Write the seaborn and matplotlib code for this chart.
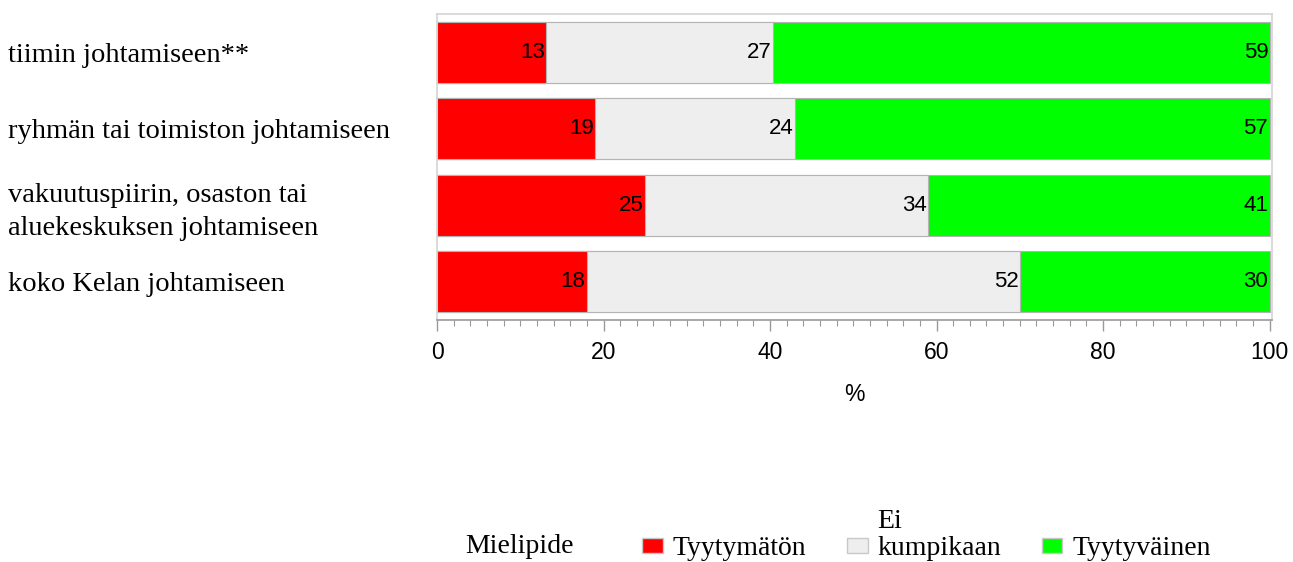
import matplotlib
matplotlib.use("Agg")
import matplotlib.pyplot as plt
from matplotlib.patches import Patch
from matplotlib.ticker import MultipleLocator
import numpy as np
import pandas as pd
import seaborn as sns

# data
items = ["tiimin johtamiseen**",
         "ryhmän tai toimiston johtamiseen",
         "vakuutuspiirin, osaston tai\naluekeskuksen johtamiseen",
         "koko Kelan johtamiseen"]
tyytymaton = [13, 19, 25, 18]
ei_kumpikaan = [27, 24, 34, 52]
tyytyvainen = [59, 57, 41, 30]
series_names = ["Tyytymätön", "Ei kumpikaan", "Tyytyväinen"]
series_colors = ["#ff0000", "#eeeeee", "#00ff00"]

SERIF = "Liberation Serif"
SANS = "Liberation Sans"

sns.set_style("white")
plt.rcParams["font.family"] = [SANS, "DejaVu Sans"]
plt.rcParams["text.color"] = "black"
plt.rcParams["axes.labelcolor"] = "black"
plt.rcParams["xtick.labelcolor"] = "black"
plt.rcParams["ytick.labelcolor"] = "black"

df = pd.DataFrame({"item": items,
                   "Tyytymätön": tyytymaton,
                   "Ei kumpikaan": ei_kumpikaan,
                   "Tyytyväinen": tyytyvainen})
values = df[series_names].to_numpy()
# rounded shares do not always add to 100, the bars are drawn as full rows
cum = values.cumsum(axis=1) / values.sum(axis=1, keepdims=True) * 100

fig = plt.figure(figsize=(12.93, 5.62), dpi=100)
ax = fig.add_axes([437 / 1293, 1 - 320 / 562, (1272 - 437) / 1293, (320 - 14) / 562])

# stacked bars: draw cumulative totals from the largest to the smallest
for j in reversed(range(3)):
    sns.barplot(x=cum[:, j], y=df["item"], orient="h", color=series_colors[j],
                saturation=1, width=0.8, edgecolor="#b4b4b4", linewidth=0.8, ax=ax)

# value labels at the right end of each segment (containers: green, grey, red)
for k, container in enumerate(ax.containers):
    j = 2 - k
    for i, bar in enumerate(container):
        x_end = bar.get_x() + bar.get_width()
        y_mid = bar.get_y() + bar.get_height() / 2
        ax.text(x_end - 0.15, y_mid, str(values[i, j]), ha="right", va="center",
                fontsize=16, family=SANS, color="black")

ax.set_xlim(0, 100.3)
ax.set_ylim(3.5, -0.5)
ax.xaxis.set_major_locator(MultipleLocator(20))
ax.xaxis.set_minor_locator(MultipleLocator(2))
ax.tick_params(axis="x", which="major", length=8, width=1, color="#9a9a9a",
               labelsize=16.5, pad=7, bottom=True)
ax.tick_params(axis="x", which="minor", length=4, width=0.8, color="#9a9a9a", bottom=True)
ax.set_xlabel("%", fontsize=16.5, labelpad=14)

ax.set_ylabel("")
ax.tick_params(axis="y", length=0, pad=(437 - 8) * 0.72)
for lab in ax.get_yticklabels():
    lab.set_horizontalalignment("left")
    lab.set_fontfamily(SERIF)
    lab.set_fontsize(20.5)
    lab.set_linespacing(1.4)

for side in ["top", "right", "left"]:
    ax.spines[side].set_color("#d4d4d4")
    ax.spines[side].set_linewidth(1.2)
ax.spines["bottom"].set_color("#9a9a9a")
ax.spines["bottom"].set_linewidth(1.2)

# legend at the bottom
LEG_SIZE = 20
handles = [Patch(facecolor=c, edgecolor="#c8c8c8", linewidth=1) for c in series_colors]
fig.text(465 / 1293, 1 - 553 / 562, "Mielipide", family=SERIF, fontsize=LEG_SIZE,
         ha="left", va="baseline")
leg = fig.legend(handles, ["Tyytymätön", "kumpikaan", "Tyytyväinen"],
                 loc="lower left", ncol=3, frameon=False,
                 bbox_to_anchor=(642 / 1293, 1 - 561 / 562), borderpad=0, borderaxespad=0,
                 prop={"family": SERIF, "size": LEG_SIZE}, handlelength=0.75,
                 handleheight=0.45, handletextpad=0.36, columnspacing=1.45)

# first word of "Ei kumpikaan" sits on its own line above the legend entry
fig.canvas.draw()
bb = leg.get_texts()[1].get_window_extent()
fig.text(bb.x0 / fig.bbox.width, (bb.y0 + 27) / fig.bbox.height, "Ei", family=SERIF,
         fontsize=LEG_SIZE, ha="left", va="bottom")

fig.savefig("out.png", dpi=100)
